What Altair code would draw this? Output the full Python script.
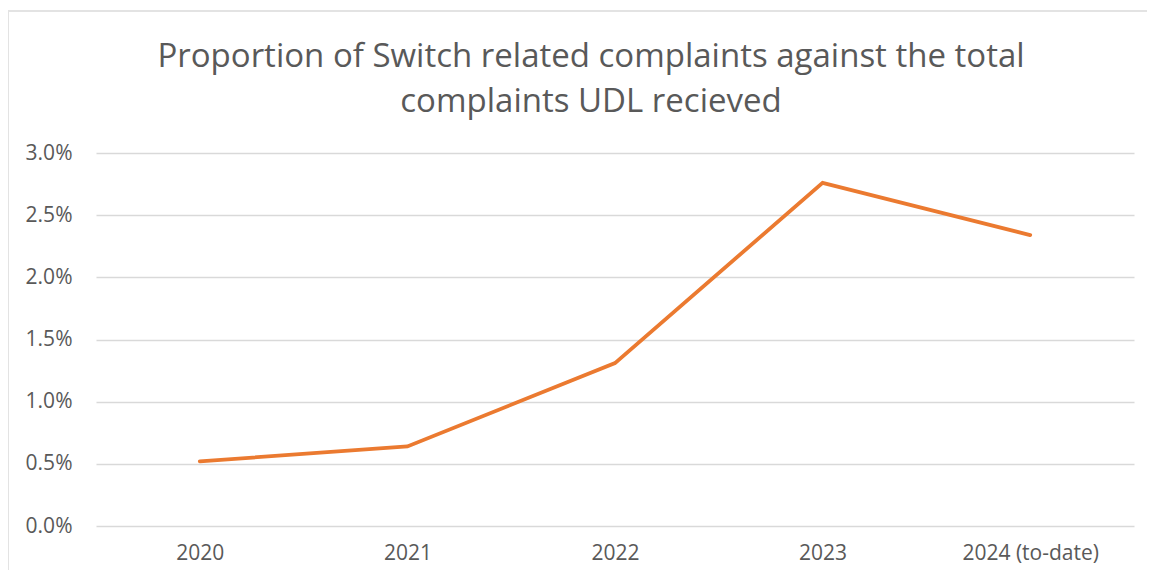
import altair as alt
import pandas as pd

years = ["2020", "2021", "2022", "2023", "2024 (to-date)"]
share = [0.0052, 0.0064, 0.0131, 0.0276, 0.0234]

title_lines = ["Proportion of Switch related complaints against the total",
               "complaints UDL recieved"]

df = pd.DataFrame({"year": years, "share": share})

FONT = "Open Sans"
GREY = "#595959"

line = alt.Chart(df).mark_line(color="#EB7A30", strokeWidth=3.8, strokeCap="round").encode(
    x=alt.X("year:N", sort=years, title=None,
            scale=alt.Scale(type="point", padding=0.5),
            axis=alt.Axis(labelAngle=0, ticks=False, domain=False, grid=False,
                          labelFont=FONT, labelFontSize=21, labelColor=GREY,
                          labelPadding=16)),
    y=alt.Y("share:Q", title=None,
            scale=alt.Scale(domain=[0, 0.03], nice=False),
            axis=alt.Axis(format=".1%", values=[0, 0.005, 0.01, 0.015, 0.02, 0.025, 0.03],
                          ticks=False, domain=False, grid=True, gridColor="#d9d9d9",
                          gridWidth=1.5, labelFont=FONT, labelFontSize=21,
                          labelColor=GREY, labelPadding=24)),
)

frame_top = alt.Chart(df).mark_rule(color="#e3e3e3", strokeWidth=2).encode(
    x=alt.value(-88), x2=alt.value(1060), y=alt.value(-142)
)
frame_left = alt.Chart(df).mark_rule(color="#e3e3e3", strokeWidth=2).encode(
    x=alt.value(-88), y=alt.value(-142), y2=alt.value(430)
)

chart = alt.layer(frame_top, frame_left, line).properties(
    width=1038,
    height=373,
    autosize=alt.AutoSizeParams(type="none"),
    padding={"left": 88, "top": 145, "right": 13, "bottom": 44},
    title=alt.TitleParams(
        text=title_lines,
        font=FONT, fontSize=33, fontWeight="normal", color=GREY,
        anchor="middle", frame="group", dx=-24, lineHeight=45, offset=-109,
    ),
).configure(background="white", view=alt.ViewConfig(strokeWidth=0, stroke="transparent"))

chart.save("out.html", embed_options={"renderer": "svg", "actions": False})
